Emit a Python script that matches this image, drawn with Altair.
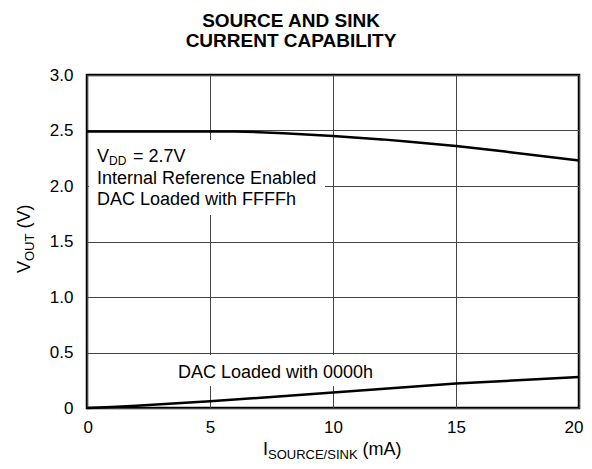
import altair as alt
import pandas as pd

# ---- data ----
cur_hi = [0, 2, 4, 6, 7, 8, 10, 12, 13, 15, 17, 20]
vout_hi = [2.49, 2.49, 2.49, 2.49, 2.485, 2.475, 2.45, 2.42, 2.40, 2.36, 2.31, 2.23]
cur_lo = [0, 1, 2, 5, 7.5, 10, 12.5, 15, 17.5, 20]
vout_lo = [0, 0.01, 0.02, 0.06, 0.10, 0.14, 0.18, 0.22, 0.25, 0.28]

x_ticks = [0, 5, 10, 15, 20]
y_ticks = [0, 0.5, 1.0, 1.5, 2.0, 2.5, 3.0]

title_lines = ["SOURCE AND SINK", "CURRENT CAPABILITY"]
note_hi = ["Internal Reference Enabled", "DAC Loaded with FFFFh"]
note_lo = ["DAC Loaded with 0000h"]
vdd_parts = ["V", "DD", "= 2.7V"]
ytitle_parts = ["V", "OUT", "(V)"]
xtitle_parts = ["I", "SOURCE/SINK", "(mA)"]

FONT = "Liberation Sans"

df = pd.DataFrame({
    "current": cur_hi + cur_lo,
    "vout": vout_hi + vout_lo,
    "series": ["FFFFh"] * len(cur_hi) + ["0000h"] * len(cur_lo),
})

xs = alt.Scale(domain=[0, 20], nice=False, zero=False)
ys = alt.Scale(domain=[0, 3], nice=False, zero=False)

lines = alt.Chart(df).mark_line(color="black", strokeWidth=2.5).encode(
    x=alt.X("current:Q", scale=xs,
            axis=alt.Axis(values=x_ticks, title=None, format="d", grid=True,
                          labelPadding=11, labelFlush=True, labelFlushOffset=4)),
    y=alt.Y("vout:Q", scale=ys,
            axis=alt.Axis(values=y_ticks, title=None, grid=True, labelPadding=14,
                          labelFlush=False,
                          labelExpr="datum.value == 0 ? '0' : format(datum.value, '.1f')")),
    detail="series:N",
)


def box(x1, x2, y1, y2):
    return alt.Chart(pd.DataFrame({"k": [0]})).mark_rect(fill="white").encode(
        x=alt.value(x1), x2=alt.value(x2), y=alt.value(y1), y2=alt.value(y2))


def txt(s, x, y, size=18, weight="normal", align="left", angle=0):
    return alt.Chart(pd.DataFrame({"label": [s]})).mark_text(
        font=FONT, fontSize=size, fontWeight=weight, align=align,
        baseline="alphabetic", color="black", angle=angle,
    ).encode(text="label:N", x=alt.value(x), y=alt.value(y))


layers = [
    box(2, 238, 65, 140),
    box(83, 298, 280, 311),
    lines,
    # title
    txt(title_lines[0], 204, -48, size=19, weight="bold", align="center"),
    txt(title_lines[1], 204, -28, size=19, weight="bold", align="center"),
    # upper annotation
    txt(vdd_parts[0], 10, 87),
    txt(vdd_parts[1], 22, 90, size=12),
    txt(vdd_parts[2], 46, 87),
    txt(note_hi[0], 10, 109),
    txt(note_hi[1], 10, 130),
    # lower annotation
    txt(note_lo[0], 91, 303),
    # y axis title (rotated)
    txt(ytitle_parts[0], -57, 198, angle=270),
    txt(ytitle_parts[1], -53, 186, size=13, angle=270),
    txt(ytitle_parts[2], -57, 153.6, angle=270),
    # x axis title
    txt(xtitle_parts[0], 176, 380),
    txt(xtitle_parts[1], 181, 384, size=13),
    txt(xtitle_parts[2], 275.6, 380),
]

chart = alt.layer(*layers).properties(
    width=492, height=333,
    padding={"left": 79, "top": 67, "right": 5, "bottom": 53},
    autosize=alt.AutoSizeParams(type="none"),
).configure_view(
    stroke="black", strokeWidth=2.5
).configure_axis(
    domain=False, ticks=False, labelFont=FONT, labelFontSize=17,
    labelColor="black", gridColor="#444", gridWidth=1, gridOpacity=1,
)

chart.save("out.html", embed_options={"renderer": "svg", "actions": False})
